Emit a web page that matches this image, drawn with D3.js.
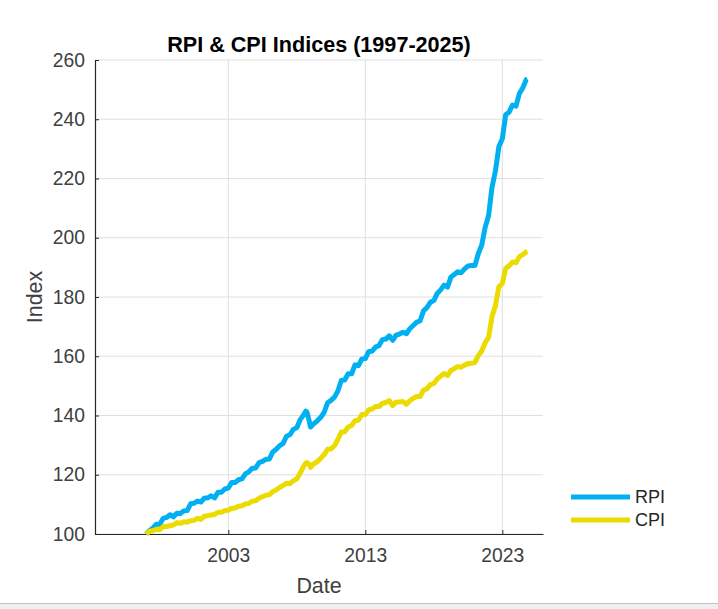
<!DOCTYPE html>
<html>
<head>
<meta charset="utf-8">
<script src="https://cdn.jsdelivr.net/npm/d3@7"></script>
<style>
  html, body { margin: 0; padding: 0; background: #ffffff; }
  svg { display: block; }
  text { font-family: "Liberation Sans", Arial, Helvetica, sans-serif; }
</style>
</head>
<body>
<script>
// ---------------- data (Jan 1997 = 100) ----------------
const dates = [
  "1997-01","1997-04","1997-07","1997-10",
  "1998-01","1998-04","1998-07","1998-10",
  "1999-01","1999-04","1999-07","1999-10",
  "2000-01","2000-04","2000-07","2000-10",
  "2001-01","2001-04","2001-07","2001-10",
  "2002-01","2002-04","2002-07","2002-10",
  "2003-01","2003-04","2003-07","2003-10",
  "2004-01","2004-04","2004-07","2004-10",
  "2005-01","2005-04","2005-07","2005-10",
  "2006-01","2006-04","2006-07","2006-10",
  "2007-01","2007-04","2007-07","2007-10",
  "2008-01","2008-04","2008-07","2008-09","2008-10","2008-12",
  "2009-01","2009-03","2009-07","2009-10",
  "2010-01","2010-04","2010-07","2010-10",
  "2011-01","2011-04","2011-07","2011-10",
  "2012-01","2012-04","2012-07","2012-10",
  "2013-01","2013-04","2013-07","2013-10",
  "2014-01","2014-04","2014-07","2014-10",
  "2015-01","2015-04","2015-07","2015-10",
  "2016-01","2016-04","2016-07","2016-10",
  "2017-01","2017-04","2017-07","2017-10",
  "2018-01","2018-04","2018-07","2018-10",
  "2019-01","2019-04","2019-07","2019-10",
  "2020-01","2020-04","2020-07","2020-10",
  "2021-01","2021-04","2021-07","2021-10",
  "2022-01","2022-04","2022-07","2022-10",
  "2023-01","2023-04","2023-07","2023-10",
  "2024-01","2024-04","2024-07","2024-10","2024-11"
];

const rpi = [
  100.0,101.2,102.0,103.3,
  103.3,105.3,105.6,106.5,
  105.8,107.0,106.9,107.8,
  107.9,110.2,110.4,111.1,
  110.8,112.1,112.2,112.9,
  112.2,114.1,114.1,115.2,
  115.5,117.4,117.4,118.3,
  118.6,120.3,121.0,122.2,
  122.3,124.1,124.5,125.2,
  125.3,127.7,128.6,129.8,
  130.6,133.0,133.5,135.3,
  135.9,138.6,140.2,141.5,141.0,137.9,
  136.1,136.9,138.2,139.4,
  141.1,144.3,145.1,146.2,
  148.3,151.8,152.0,154.1,
  154.1,157.1,156.8,159.1,
  159.2,161.6,161.7,163.1,
  163.6,165.6,165.8,166.9,
  165.4,167.1,167.5,168.1,
  167.6,169.3,170.4,171.5,
  172.0,175.3,176.4,178.2,
  178.8,181.2,182.4,184.0,
  183.3,186.7,187.6,188.5,
  188.2,189.5,190.5,190.6,
  190.6,194.6,197.5,203.5,
  207.5,217.0,222.5,230.7,
  233.4,241.5,242.4,244.8,
  244.4,248.7,250.6,253.4,253.6
];

const cpi = [
  100.0,100.9,101.1,101.6,
  101.5,102.5,102.5,102.8,
  103.1,103.8,103.6,104.1,
  104.0,104.5,104.6,105.3,
  104.9,106.0,106.2,106.4,
  106.6,107.3,107.3,107.9,
  108.0,108.7,108.8,109.4,
  109.5,110.2,110.3,111.1,
  111.2,112.1,112.6,113.1,
  113.3,114.3,114.9,115.7,
  116.4,117.1,117.0,118.0,
  118.6,120.6,122.8,124.0,124.1,123.5,
  122.5,123.4,124.4,125.6,
  126.8,128.6,128.7,129.8,
  131.9,134.4,134.5,136.1,
  136.6,138.2,138.4,140.3,
  140.3,141.9,142.2,143.0,
  143.0,144.1,144.4,145.0,
  143.4,144.5,144.6,144.7,
  143.8,145.0,145.8,146.4,
  146.4,148.6,149.0,150.4,
  150.8,152.3,153.2,154.2,
  153.5,155.2,155.8,156.5,
  156.3,157.0,157.5,157.6,
  157.9,160.2,161.8,164.6,
  166.4,173.4,177.0,183.5,
  184.5,189.7,190.5,191.8,
  191.6,193.6,194.3,195.2,195.3
];

const seriesNames = ["RPI", "CPI"];
const seriesColors = ["#00b0f0", "#ecdb00"];
const yTicks = [100, 120, 140, 160, 180, 200, 220, 240, 260];
const xTickYears = [2003, 2013, 2023];
const titleText = "RPI & CPI Indices (1997-2025)";
const xLabel = "Date";
const yLabel = "Index";

// ---------------- layout ----------------
const W = 718, H = 609;
const plot = { left: 95, right: 543, top: 60, bottom: 534 };

const parse = d3.timeParse("%Y-%m");
const series = [rpi, cpi].map((vals, k) => ({
  name: seriesNames[k],
  color: seriesColors[k],
  values: dates.map((d, i) => ({ date: parse(dates[i]), value: vals[i] }))
}));

// x scale calibrated on the tick positions, then extended to the axes box
const calib = d3.scaleTime()
  .domain([new Date(2003, 0, 1), new Date(2023, 0, 1)])
  .range([228.3, 502.3]);
const x = d3.scaleTime()
  .domain([calib.invert(plot.left), calib.invert(plot.right)])
  .range([plot.left, plot.right]);
const y = d3.scaleLinear().domain([100, 260]).range([plot.bottom, plot.top]);

const svg = d3.select("body").append("svg")
  .attr("width", W).attr("height", H);

svg.append("rect").attr("width", W).attr("height", H).attr("fill", "#ffffff");

// grid
const tickDates = xTickYears.map(yr => new Date(yr, 0, 1));
svg.append("g").selectAll("line").data(yTicks).join("line")
  .attr("x1", plot.left).attr("x2", plot.right)
  .attr("y1", d => y(d)).attr("y2", d => y(d))
  .attr("stroke", "#dfdfdf").attr("stroke-width", 1);
svg.append("g").selectAll("line").data(tickDates).join("line")
  .attr("x1", d => x(d)).attr("x2", d => x(d))
  .attr("y1", plot.top).attr("y2", plot.bottom)
  .attr("stroke", "#dfdfdf").attr("stroke-width", 1);

// axes
const xAxis = d3.axisBottom(x).tickValues(tickDates)
  .tickFormat(d3.timeFormat("%Y")).tickSizeInner(-4).tickSizeOuter(0).tickPadding(14);
const gx = svg.append("g").attr("transform", `translate(0,${plot.bottom})`).call(xAxis);
gx.select(".domain").attr("stroke", "#262626").attr("stroke-width", 1.2);
gx.selectAll(".tick line").attr("stroke", "#262626");
gx.selectAll(".tick text").attr("fill", "#404040").attr("font-size", 19.3)
  .attr("font-family", "Liberation Sans, Arial, sans-serif");

const yAxis = d3.axisLeft(y).tickValues(yTicks).tickSizeInner(-4).tickSizeOuter(0).tickPadding(10);
const gy = svg.append("g").attr("transform", `translate(${plot.left},0)`).call(yAxis);
gy.select(".domain").attr("stroke", "#262626").attr("stroke-width", 1.2);
gy.selectAll(".tick line").attr("stroke", "#262626");
gy.selectAll(".tick text").attr("fill", "#404040").attr("font-size", 19.3)
  .attr("font-family", "Liberation Sans, Arial, sans-serif");

// lines
const line = d3.line().x(d => x(d.date)).y(d => y(d.value));
svg.append("g").selectAll("path").data(series).join("path")
  .attr("d", d => line(d.values))
  .attr("fill", "none")
  .attr("stroke", d => d.color)
  .attr("stroke-width", 5)
  .attr("stroke-linejoin", "round");

// title and labels
svg.append("text").attr("x", (plot.left + plot.right) / 2).attr("y", 52)
  .attr("text-anchor", "middle").attr("font-weight", "bold")
  .attr("font-size", 21.6).attr("fill", "#000").text(titleText);
svg.append("text").attr("x", (plot.left + plot.right) / 2).attr("y", 593)
  .attr("text-anchor", "middle").attr("font-size", 21.4).attr("fill", "#404040").text(xLabel);
svg.append("text")
  .attr("transform", `translate(41.5,${(plot.top + plot.bottom) / 2}) rotate(-90)`)
  .attr("text-anchor", "middle").attr("font-size", 21.4).attr("fill", "#404040").text(yLabel);

// legend
const lg = svg.append("g").selectAll("g").data(series).join("g")
  .attr("transform", (d, i) => `translate(571,${497 + i * 23})`);
lg.append("line").attr("x1", 0).attr("x2", 59).attr("y1", 0).attr("y2", 0)
  .attr("stroke", d => d.color).attr("stroke-width", 5);
lg.append("text").attr("x", 64).attr("y", 0).attr("dy", "0.35em")
  .attr("font-size", 18).attr("fill", "#262626").text(d => d.name);

// window bottom edge
svg.append("rect").attr("x", 0).attr("y", 603).attr("width", W).attr("height", H - 603).attr("fill", "#f0f0f0");
svg.append("line").attr("x1", 0).attr("x2", W).attr("y1", 603.5).attr("y2", 603.5)
  .attr("stroke", "#c4c4c4").attr("stroke-width", 1);
</script>
</body>
</html>
